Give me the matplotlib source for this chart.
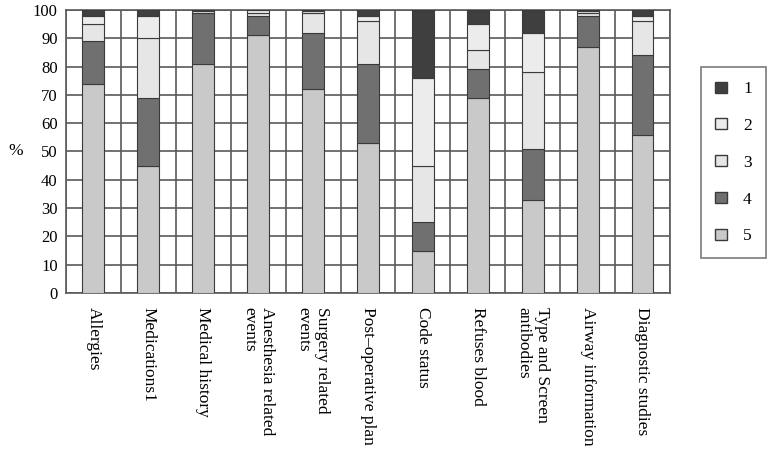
import matplotlib.pyplot as plt
import numpy as np
from matplotlib.patches import Patch

plt.rcParams['font.family'] = ['Liberation Serif', 'DejaVu Serif']

categories = ['Allergies', 'Medications1', 'Medical history',
              'Anesthesia related\nevents', 'Surgery related\nevents',
              'Post\u2013operative plan', 'Code status', 'Refuses blood',
              'Type and Screen\nantibodies', 'Airway information',
              'Diagnostic studies']

# stacked shares (%) per rating, bottom (5) to top (1)
r5 = [74, 45, 81, 91, 72, 53, 15, 69, 33, 87, 56]
r4 = [15, 24, 18, 7, 20, 28, 10, 10, 18, 11, 28]
r3 = [6, 21, 0.5, 1, 7, 15, 20, 7, 27, 1, 12]
r2 = [3, 8, 0.5, 1, 0.5, 2, 31, 9, 14, 0.5, 2]
r1 = [2, 2, 0, 0, 0.5, 2, 24, 5, 8, 0.5, 2]

series = [('5', r5, '#c9c9c9'), ('4', r4, '#707070'), ('3', r3, '#e6e6e6'),
          ('2', r2, '#ececec'), ('1', r1, '#3f3f3f')]

fig = plt.figure(figsize=(7.79, 4.54), dpi=100)
ax = fig.add_axes([0.0847, 0.3546, 0.7753, 0.6234])

x = np.arange(len(categories))
bottom = np.zeros(len(categories))
for name, vals, col in series:
    ax.bar(x, vals, 0.4, bottom=bottom, color=col, edgecolor='#3a3a3a',
           linewidth=0.8, zorder=3)
    bottom += np.array(vals)

ax.set_xlim(-0.5, len(categories) - 0.5)
ax.set_ylim(0, 100)
ax.set_yticks(range(0, 101, 10))
ax.set_xticks(x)
ax.set_xticklabels(categories, rotation=270, ha='center', va='top',
                   ma='left', fontsize=12.5)
ax.set_xticks(np.arange(-0.5, len(categories), 1), minor=True)
ax.tick_params(axis='x', which='both', length=0, pad=10)
ax.tick_params(axis='y', length=0, labelsize=12, pad=6)
ax.grid(axis='y', which='major', color='#5a5a5a', lw=1.2, zorder=0)
ax.grid(axis='x', which='minor', color='#5a5a5a', lw=1.2, zorder=0)
for s in ax.spines.values():
    s.set_color('#5a5a5a')
    s.set_linewidth(1.2)

ax.set_ylabel('%', rotation=0, fontsize=12.5, labelpad=12, va='center')

handles = [Patch(facecolor=c, edgecolor='#3a3a3a', label=n)
           for n, _, c in reversed(series)]
leg = ax.legend(handles=handles, loc='center left',
                bbox_to_anchor=(1.052, 0.46), frameon=True, fancybox=False,
                edgecolor='#5a5a5a', fontsize=12.5, handlelength=0.7,
                handleheight=0.6, labelspacing=1.2, borderpad=0.8,
                handletextpad=0.9, borderaxespad=0)
leg.get_frame().set_linewidth(1.2)

fig.savefig('out.png', dpi=100)
